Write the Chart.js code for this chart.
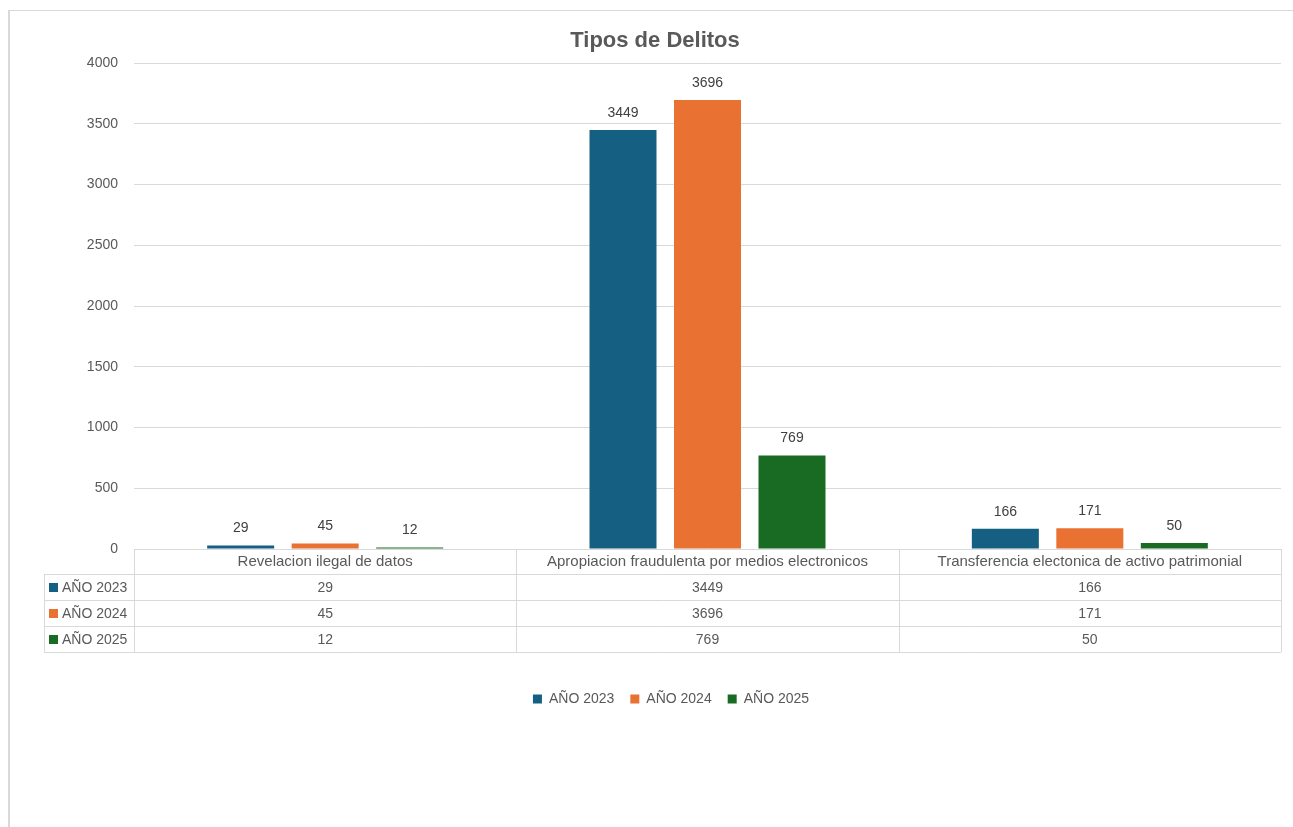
<!DOCTYPE html>
<html>
<head>
<meta charset="utf-8">
<script src="https://cdn.jsdelivr.net/npm/chart.js@4.4.1/dist/chart.umd.min.js"></script>
<style>
    body { margin: 0; background: #fff; }
    #frame { position: absolute; left: 8px; top: 10px; width: 1290px; height: 830px; border-left: 2px solid #d9d9d9; border-top: 1px solid #d9d9d9; }
    #wrap { position: absolute; left: 0; top: 0; width: 1293px; height: 827px; }
</style>
</head>
<body>
<div id="frame"></div>
<div id="wrap"><canvas id="delitosChart"></canvas></div>
<script>
    const categories = ['Revelacion ilegal de datos', 'Apropiacion fraudulenta por medios electronicos', 'Transferencia electonica de activo patrimonial'];
    const seriesNames = ['AÑO 2023', 'AÑO 2024', 'AÑO 2025'];
    const year2023 = [29, 3449, 166];
    const year2024 = [45, 3696, 171];
    const year2025 = [12, 769, 50];
    const yTicks = [0, 500, 1000, 1500, 2000, 2500, 3000, 3500, 4000];
    const colors = ['#156082', '#E97132', '#196B24'];

    const FONT = "'Liberation Sans', Arial, sans-serif";

    // chart title (drawn by hand so it can sit left of the legend centre)
    const titlePlugin = {
        id: 'titlePlugin',
        afterDraw(chart) {
            const ctx = chart.ctx;
            ctx.save();
            ctx.font = 'bold 22px ' + FONT;
            ctx.fillStyle = '#595959';
            ctx.textAlign = 'center';
            ctx.textBaseline = 'middle';
            ctx.fillText('Tipos de Delitos', 655, 41);
            ctx.restore();
        }
    };

    // labels above each bar
    const barLabels = {
        id: 'barLabels',
        afterDatasetsDraw(chart) {
            const ctx = chart.ctx;
            ctx.save();
            ctx.font = '14px ' + FONT;
            ctx.fillStyle = '#404040';
            ctx.textAlign = 'center';
            ctx.textBaseline = 'middle';
            chart.data.datasets.forEach((ds, i) => {
                chart.getDatasetMeta(i).data.forEach((bar, j) => {
                    ctx.fillText(ds.data[j], bar.x, bar.y - 17);
                });
            });
            ctx.restore();
        }
    };

    // data table under the plot
    const dataTable = {
        id: 'dataTable',
        afterDraw(chart) {
            const ctx = chart.ctx;
            const x = chart.scales.x;
            const area = chart.chartArea;
            const top = area.bottom;
            const rowH = 26;
            const leftX = 44;
            const catW = (area.right - area.left) / categories.length;
            ctx.save();
            ctx.strokeStyle = '#d9d9d9';
            ctx.lineWidth = 1;
            ctx.beginPath();
            for (let r = 1; r <= seriesNames.length + 1; r++) {
                const y = Math.round(top + rowH * r - 1) + 0.5;
                ctx.moveTo(leftX, y);
                ctx.lineTo(area.right, y);
            }
            for (let c = 0; c <= categories.length; c++) {
                const vx = Math.round(area.left + catW * c) + 0.5;
                ctx.moveTo(vx, top);
                ctx.lineTo(vx, top + rowH * 4 - 1);
            }
            ctx.moveTo(leftX + 0.5, top + rowH - 1);
            ctx.lineTo(leftX + 0.5, top + rowH * 4 - 1);
            ctx.stroke();

            ctx.textBaseline = 'middle';
            const rows = [year2023, year2024, year2025];
            rows.forEach((vals, r) => {
                const cy = top + rowH * (r + 1) + rowH / 2;
                ctx.fillStyle = colors[r];
                ctx.fillRect(49, Math.round(cy - 5), 9, 9);
                ctx.fillStyle = '#595959';
                ctx.font = '14px ' + FONT;
                ctx.textAlign = 'left';
                ctx.fillText(seriesNames[r], 62, cy);
                ctx.textAlign = 'center';
                vals.forEach((v, c) => {
                    ctx.fillText(v, x.getPixelForValue(c), cy);
                });
            });
            ctx.restore();
        }
    };

    const ctx = document.getElementById('delitosChart').getContext('2d');
    new Chart(ctx, {
        type: 'bar',
        data: {
            labels: categories,
            datasets: [
                { label: seriesNames[0], data: year2023, backgroundColor: colors[0] },
                { label: seriesNames[1], data: year2024, backgroundColor: colors[1] },
                { label: seriesNames[2], data: year2025, backgroundColor: colors[2] }
            ]
        },
        options: {
            responsive: true,
            maintainAspectRatio: false,
            animation: false,
            layout: { padding: { left: 61, right: 12, top: 63, bottom: 111 } },
            datasets: { bar: { categoryPercentage: 0.663, barPercentage: 0.793 } },
            scales: {
                x: {
                    grid: { display: false, drawTicks: false },
                    border: { display: false },
                    ticks: { color: '#595959', font: { size: 15, family: FONT }, padding: 4, maxRotation: 0, autoSkip: false },
                    afterFit(scale) { scale.height = 127; }
                },
                y: {
                    min: 0,
                    max: 4000,
                    afterBuildTicks(scale) { scale.ticks = yTicks.map(v => ({ value: v })); },
                    grid: { color: '#d9d9d9', drawTicks: false },
                    border: { display: false },
                    ticks: { color: '#595959', font: { size: 14, family: FONT }, padding: 16, callback: v => String(v) },
                    afterFit(scale) { scale.width = 73; }
                }
            },
            plugins: {
                title: { display: false },
                legend: {
                    position: 'bottom',
                    labels: { color: '#595959', boxWidth: 9, boxHeight: 9, padding: 16, font: { size: 14, family: FONT } }
                },
                tooltip: { enabled: false }
            }
        },
        plugins: [titlePlugin, barLabels, dataTable]
    });
</script>
</body>
</html>
